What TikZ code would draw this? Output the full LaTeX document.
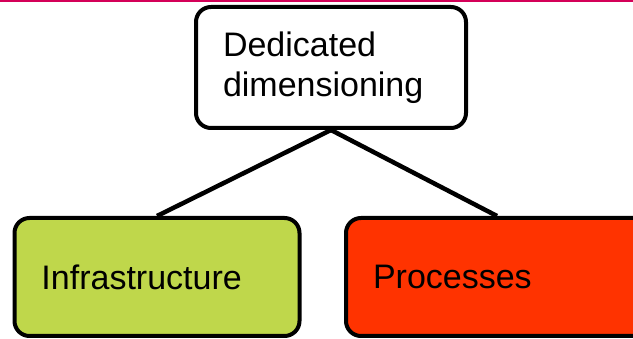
\documentclass[tikz,border=0pt]{standalone}
\usepackage{fontspec}
\setmainfont{Liberation Sans}
\usetikzlibrary{backgrounds}
\definecolor{topbar}{RGB}{212,0,88}
\definecolor{infragreen}{RGB}{191,215,75}
\definecolor{procred}{RGB}{255,51,0}
\begin{document}
\begin{tikzpicture}[x=1pt,y=-1pt,
  box/.style={draw=black,line width=4pt,rounded corners=15pt,align=left,
    inner xsep=27pt,inner ysep=0pt,font=\fontsize{34}{40}\selectfont},
  link/.style={draw=black,line width=4.5pt}]
\useasboundingbox (0,0) rectangle (633,339);
\clip (0,0) rectangle (633,339);
\fill[topbar] (0,0) rectangle (633,2.5);
\node[box,fill=white,text width=216pt,minimum height=121pt] (top) at (331,67.5) {Dedicated\\dimensioning};
\node[box,fill=infragreen,text width=231pt,minimum height=118pt] (infra) at (157,277) {Infrastructure};
\node[box,fill=procred,text width=248pt,minimum height=118pt] (proc) at (497,277) {Processes};
\begin{pgfonlayer}{background}
\draw[link] (top.south) -- (infra.north);
\draw[link] (top.south) -- (proc.north);
\end{pgfonlayer}
\end{tikzpicture}
\end{document}
